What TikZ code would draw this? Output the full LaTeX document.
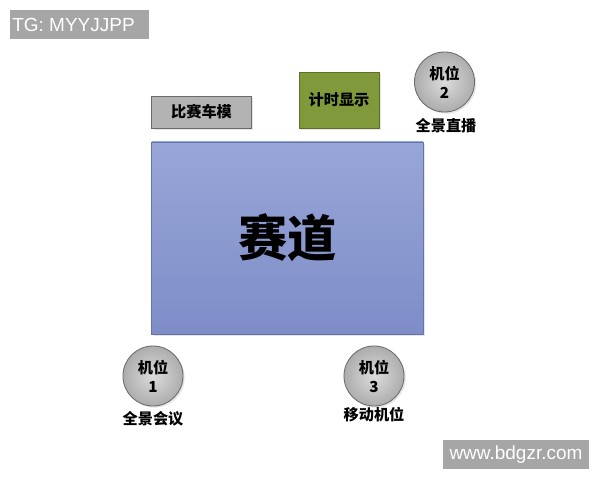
\documentclass[tikz,border=0pt]{standalone}
\usepackage{fontspec}
\setmainfont{Liberation Sans}
\newfontfamily\cjk{Noto Sans CJK SC}
\usetikzlibrary{positioning,shadows}

\definecolor{tagGray}{HTML}{A6A6A6}
\definecolor{boxGray}{HTML}{B3B3B3}
\definecolor{boxEdge}{HTML}{6B6B6B}
\definecolor{timeGreen}{HTML}{7F993B}
\definecolor{timeEdge}{HTML}{5E7028}
\definecolor{trackTop}{HTML}{98A6D7}
\definecolor{trackBot}{HTML}{7E8DC8}
\definecolor{trackEdge}{HTML}{6675A8}
\definecolor{camFill}{HTML}{C4C4C4}

\begin{document}
\begin{tikzpicture}[x=0.025cm, y=-0.025cm,
tag/.style={rectangle, fill=tagGray, text=white, inner sep=0pt, font=\fontsize{13.5pt}{15pt}\selectfont},
box/.style={rectangle, draw=boxEdge, line width=0.6pt, inner sep=0pt, drop shadow={opacity=0.2, shadow xshift=1.2pt, shadow yshift=-1.2pt}},
cam/.style={circle, draw=boxEdge, line width=0.6pt, inner color=camFill!60!white, outer color=camFill!88!black, minimum size=1.5cm, inner sep=0pt, align=center, font=\cjk\bfseries\fontsize{10.8pt}{13.5pt}\selectfont, drop shadow={opacity=0.2, shadow xshift=1.2pt, shadow yshift=-1.2pt}},
camlabel/.style={font=\cjk\bfseries\fontsize{10.8pt}{13pt}\selectfont, inner sep=0pt}]

\useasboundingbox[fill=white] (0,0) rectangle (600,480);

% tags
\node[tag, minimum width=3.45cm, minimum height=0.73cm] (tg) at (79.5,24.5) {\hspace*{-0.3cm}TG: MYYJJPP};
\node[tag, minimum width=3.65cm, minimum height=0.73cm] (web) at (516,454.5) {www.bdgzr.com};

% boxes
\node[box, fill=boxGray, minimum width=2.48cm, minimum height=0.8cm, font=\cjk\bfseries\fontsize{10.8pt}{13pt}\selectfont] (model) at (201.5,112) {比赛车模};
\node[box, fill=timeGreen, draw=timeEdge, minimum width=2cm, minimum height=1.4cm, font=\cjk\bfseries\fontsize{10.8pt}{13pt}\selectfont] (timer) at (339,100) {计时显示};
\node[box, draw=trackEdge, top color=trackTop, bottom color=trackBot, minimum width=6.78cm, minimum height=4.8cm, font=\cjk\bfseries\fontsize{35pt}{40pt}\selectfont] (track) at (287.5,238) {赛道};

% cameras
\node[cam] (cam1) at (153,376) {机位\\1};
\node[cam] (cam2) at (444.5,82) {机位\\2};
\node[cam] (cam3) at (374,376) {机位\\3};

\node[camlabel] (lab1) at (153,419) {全景会议};
\node[camlabel] (lab2) at (446,126) {全景直播};
\node[camlabel] (lab3) at (374,415) {移动机位};

\end{tikzpicture}
\end{document}
